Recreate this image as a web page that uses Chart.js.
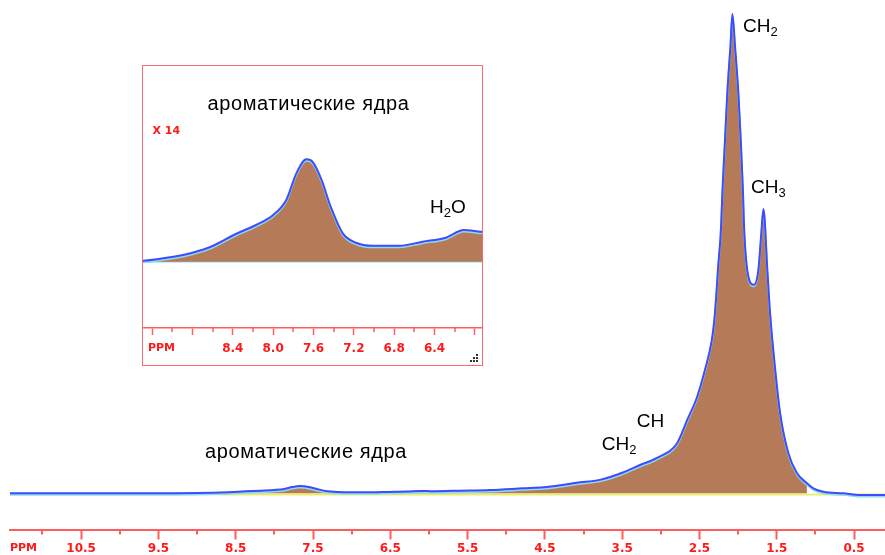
<!DOCTYPE html>
<html>
<head>
<meta charset="utf-8">
<script src="https://cdn.jsdelivr.net/npm/chart.js@4.4.1/dist/chart.umd.min.js"></script>
<style>
  html, body { margin: 0; padding: 0; background: #fff; }
  #wrap { position: relative; width: 885px; height: 555px; overflow: hidden; }
  #main { position: absolute; left: 0; top: 0; }
  #insetBox { position: absolute; left: 142px; top: 65px; width: 341px; height: 301px;
              border: 1px solid #ff6a6a; box-sizing: border-box; background: #fff; }
  #inset { position: absolute; left: 0; top: 0; }
</style>
</head>
<body>
<div id="wrap">
  <canvas id="main" width="885" height="555"></canvas>
  <div id="insetBox"><canvas id="inset" width="339" height="299"></canvas></div>
</div>
<script>
// 1H NMR spectrum: chemical shift (ppm) and intensity (CH2 maximum = 100)
const shiftPpm = [11.42, 9.60, 9.29, 8.99, 8.80, 8.60, 8.37, 8.17, 8.00, 7.87, 7.77, 7.67, 7.61,
  7.52, 7.43, 7.31, 7.18, 7.01, 6.75, 6.52, 6.29, 6.11, 6.02, 5.93, 5.60, 5.21, 4.78, 4.52, 4.30,
  4.09, 3.79, 3.50, 3.27, 3.05, 2.79, 2.66, 2.53, 2.43, 2.34, 2.30, 2.255, 2.225, 2.20, 2.17,
  2.14, 2.10, 2.074, 2.04, 1.997, 1.966, 1.94, 1.92, 1.867, 1.794, 1.738, 1.70, 1.673, 1.62,
  1.587, 1.52, 1.457, 1.35, 1.24, 1.11, 1.027, 0.897, 0.64, 0.42, 0.10];
const intensity = [0, 0, 0.015, 0.075, 0.134, 0.234, 0.413, 0.547, 0.696, 0.92, 1.317, 1.526, 1.49,
  1.218, 0.82, 0.423, 0.283, 0.238, 0.238, 0.298, 0.358, 0.472, 0.462, 0.447, 0.55, 0.69, 1.04, 1.25, 1.67,
  2.2, 2.8, 4.3, 5.9, 7.4, 10.45, 15.25, 20.15, 25.7, 32.0, 37.6, 48.0, 54.3, 64.0, 73.7,
  83.5, 93.2, 100, 93.2, 83.5, 73.7, 64.0, 54.3, 45.2, 43.5, 46.6, 54.3, 59.3, 46.0,
  37.6, 25.7, 16.7, 8.35, 4.24, 2.09, 1.04, 0.33, 0, -0.35, -0.35];

// integrated region (filled) ends at this shift; integral baseline span
const integralEnd = 1.11;
const integralSpan = [8.73, 0.10];
const integralLevel = -0.25;

// axis ticks
const mainTicks = [11.0, 10.5, 10.0, 9.5, 9.0, 8.5, 8.0, 7.5, 7.0, 6.5, 6.0, 5.5, 5.0, 4.5, 4.0,
  3.5, 3.0, 2.5, 2.0, 1.5, 1.0, 0.5];
const mainLabels = [10.5, 9.5, 8.5, 7.5, 6.5, 5.5, 4.5, 3.5, 2.5, 1.5, 0.5];
const insetTicks = [9.2, 9.0, 8.8, 8.6, 8.4, 8.2, 8.0, 7.8, 7.6, 7.4, 7.2, 7.0, 6.8, 6.6, 6.4, 6.2, 6.0];
const insetMajor = [9.2, 8.8, 8.4, 8.0, 7.6, 7.2, 6.8, 6.4, 6.0];
const insetLabels = [8.4, 8.0, 7.6, 7.2, 6.8, 6.4];
const insetGainText = 'X 14';

const BLUE = '#3d4cff', CYAN = '#8fdbe9', BROWN = '#b57b58', YELLOW = '#e9ef6c';
const AXIS = '#ff5c5c', TICK_TEXT = '#ff1a1a', INK = '#000';
const LABEL_FONT = '19px "Liberation Sans", Arial, sans-serif';
const SUB_FONT = '13px "Liberation Sans", Arial, sans-serif';
const TEXT_FONT = '20px "Liberation Sans", Arial, sans-serif';
const AXIS_FONT = { family: '"DejaVu Sans", Verdana, sans-serif', weight: 'bold', size: 12 };

const has = (list, v) => list.some(u => Math.abs(u - v) < 1e-6);
const points = shiftPpm.map((x, i) => ({ x, y: intensity[i] }));
const filled = points.filter(p => p.x >= integralEnd);

function drawFormula(ctx, parts, x, y) {
  let cx = x;
  for (const [text, sub] of parts) {
    ctx.font = sub ? SUB_FONT : LABEL_FONT;
    ctx.fillText(text, cx, sub ? y + 4 : y);
    cx += ctx.measureText(text).width;
  }
}

function drawMinorTicks(chart, ticks, majors, len, width) {
  const ctx = chart.ctx, xs = chart.scales.x, b = chart.chartArea.bottom;
  ctx.save();
  ctx.strokeStyle = AXIS; ctx.lineWidth = width;
  ticks.filter(v => !has(majors, v)).forEach(v => {
    const px = Math.round(xs.getPixelForValue(v));
    ctx.beginPath(); ctx.moveTo(px, b); ctx.lineTo(px, b + len); ctx.stroke();
  });
  ctx.restore();
}

function drawPpm(chart, dx, tickLen, pad) {
  const ctx = chart.ctx;
  ctx.save();
  ctx.fillStyle = TICK_TEXT;
  ctx.font = 'bold 11px "DejaVu Sans", Verdana, sans-serif';
  ctx.textBaseline = 'top';
  ctx.fillText('PPM', chart.chartArea.left + dx, chart.chartArea.bottom + tickLen + pad + 1);
  ctx.restore();
}

// soft cyan rim under the spectrum trace
const lineGlow = {
  id: 'lineGlow',
  beforeDatasetDraw(chart, args) {
    if (args.index !== 0) return;
    const c = chart.ctx;
    c.save();
    c.shadowColor = CYAN; c.shadowOffsetX = 0; c.shadowOffsetY = 1.5; c.shadowBlur = 0;
  },
  afterDatasetDraw(chart, args) {
    if (args.index !== 0) return;
    chart.ctx.restore();
  }
};

const peakLabels = [
  { parts: [['CH'], ['2', 1]], ppm: 1.936, level: 96.3 },
  { parts: [['CH'], ['3', 1]], ppm: 1.832, level: 62.65 },
  { parts: [['CH']], ppm: 3.311, level: 13.83 },
  { parts: [['CH'], ['2', 1]], ppm: 3.764, level: 9.03 }
];

const mainDecor = {
  id: 'mainDecor',
  afterDraw(chart) {
    const ctx = chart.ctx, xs = chart.scales.x, ys = chart.scales.y;
    drawMinorTicks(chart, mainTicks, mainLabels, 5, 2);
    drawPpm(chart, 0, 10, 2);
    ctx.save();
    ctx.fillStyle = INK;
    ctx.textBaseline = 'alphabetic';
    peakLabels.forEach(l => drawFormula(ctx, l.parts, xs.getPixelForValue(l.ppm), ys.getPixelForValue(l.level)));
    ctx.font = TEXT_FONT;
    ctx.letterSpacing = '0.6px';
    ctx.fillText('ароматические ядра', xs.getPixelForValue(8.896), ys.getPixelForValue(7.3));
    ctx.restore();
  }
};

const insetDecor = {
  id: 'insetDecor',
  afterDraw(chart) {
    const ctx = chart.ctx, xs = chart.scales.x, ys = chart.scales.y;
    drawMinorTicks(chart, insetTicks, insetMajor, 4, 1.5);
    drawPpm(chart, 5, 7, 7);
    ctx.save();
    ctx.fillStyle = INK;
    ctx.font = TEXT_FONT;
    ctx.letterSpacing = '0.6px';
    ctx.fillText('ароматические ядра', xs.getPixelForValue(8.65), ys.getPixelForValue(2.26));
    ctx.letterSpacing = '0px';
    drawFormula(ctx, [['H'], ['2', 1], ['O']], xs.getPixelForValue(6.445), ys.getPixelForValue(0.73));
    ctx.fillStyle = TICK_TEXT;
    ctx.font = 'bold 11px "DejaVu Sans", Verdana, sans-serif';
    ctx.fillText(insetGainText, xs.getPixelForValue(9.196), ys.getPixelForValue(1.90));
    // resize grip in the corner of the inset frame
    ctx.fillStyle = '#333';
    const gx = chart.width - 4, gy = chart.height - 3;
    [[0, -6], [-3, -3], [0, -3], [-6, 0], [-3, 0], [0, 0]].forEach(([dx, dy]) => ctx.fillRect(gx + dx - 2, gy + dy - 2, 2, 2));
    ctx.restore();
  }
};

function xAxis(min, max, ticks, majors, labels, tickLen, pad, borderW, axisHeight) {
  return {
    type: 'linear', reverse: true, min, max,
    afterBuildTicks: s => { s.ticks = ticks.map(v => ({ value: v })); },
    afterFit: s => { s.height = axisHeight; },
    grid: {
      drawOnChartArea: false, tickLength: tickLen, tickWidth: borderW,
      tickColor: c => (c.tick && has(majors, c.tick.value)) ? AXIS : 'rgba(0,0,0,0)'
    },
    border: { color: AXIS, width: borderW },
    ticks: {
      autoSkip: false, maxRotation: 0, padding: pad, color: TICK_TEXT, font: AXIS_FONT,
      callback: v => has(labels, v) ? v.toFixed(1) : ''
    }
  };
}

const common = {
  responsive: false, animation: false, devicePixelRatio: 1,
  plugins: { legend: { display: false }, tooltip: { enabled: false } },
  elements: { point: { radius: 0 } }
};

new Chart(document.getElementById('main'), {
  type: 'line',
  data: {
    datasets: [
      { data: points, borderColor: BLUE, borderWidth: 2, fill: false, cubicInterpolationMode: 'monotone' },
      { data: filled, borderWidth: 0, backgroundColor: BROWN, fill: 'origin', cubicInterpolationMode: 'monotone' },
      { data: integralSpan.map(x => ({ x, y: integralLevel })), borderColor: YELLOW, borderWidth: 2, fill: false }
    ]
  },
  options: Object.assign({}, common, {
    layout: { padding: { top: 10, left: 10, right: 0, bottom: 0 } },
    scales: {
      x: xAxis(0.1, 11.42, mainTicks, mainLabels, mainLabels, 10, 2, 2, 25.5),
      y: { display: false, min: -7.55, max: 100.83 }
    }
  }),
  plugins: [lineGlow, mainDecor]
});

new Chart(document.getElementById('inset'), {
  type: 'line',
  data: {
    datasets: [
      { data: points, borderColor: BLUE, borderWidth: 2, fill: false, cubicInterpolationMode: 'monotone' },
      { data: filled, borderWidth: 0, backgroundColor: BROWN, fill: 'origin', cubicInterpolationMode: 'monotone' },
      { data: [{ x: 9.29, y: 0 }, { x: 5.93, y: 0 }], borderColor: CYAN, borderWidth: 1.5, fill: false }
    ]
  },
  options: Object.assign({}, common, {
    layout: { padding: { top: 0, left: 0, right: 0, bottom: 0 } },
    scales: {
      x: xAxis(5.93, 9.29, insetTicks, insetMajor, insetLabels, 7, 7, 1.5, 37),
      y: { display: false, min: -0.988, max: 2.917 }
    }
  }),
  plugins: [lineGlow, insetDecor]
});
</script>
</body>
</html>
